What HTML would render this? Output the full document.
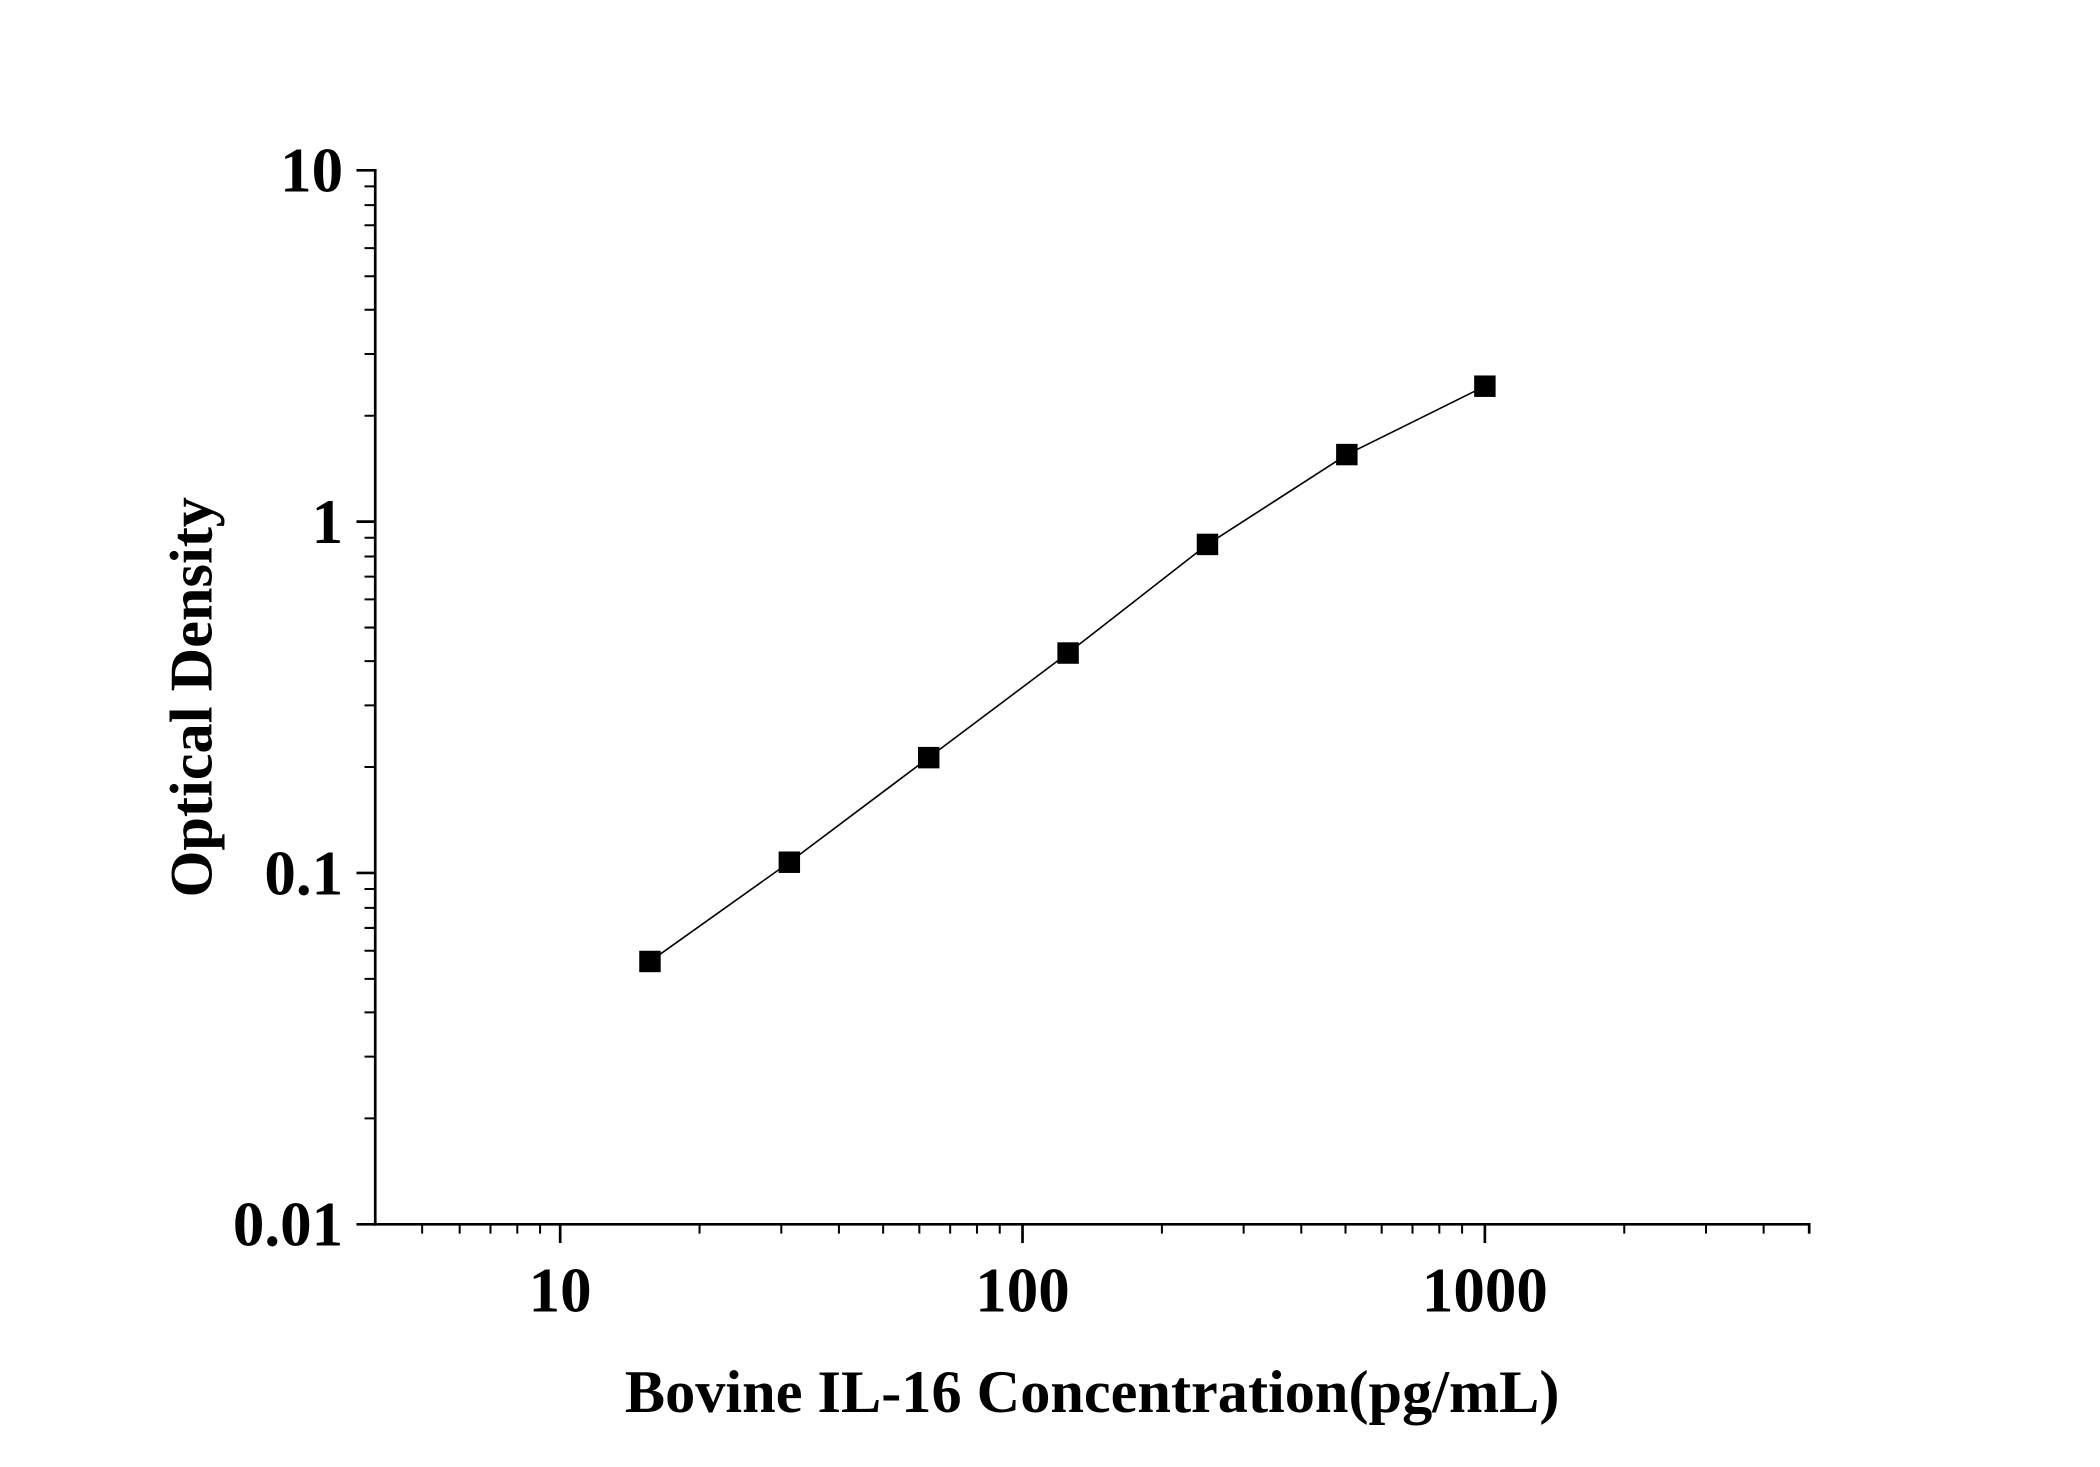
<!DOCTYPE html>
<html><head><style>html,body{margin:0;padding:0;background:#fff;}svg{display:block;}</style></head>
<body>
<svg width="2100" height="1467" viewBox="0 0 1567 1094" preserveAspectRatio="none" xmlns="http://www.w3.org/2000/svg" font-family="Liberation Serif, serif" font-weight="bold">
<g stroke="#000" stroke-width="2" fill="none">
<line x1="280" y1="126" x2="280" y2="914"/>
<line x1="279" y1="913" x2="1351" y2="913"/>
<line x1="266" y1="127" x2="280" y2="127"/>
<line x1="266" y1="389" x2="280" y2="389"/>
<line x1="266" y1="651" x2="280" y2="651"/>
<line x1="266" y1="913" x2="280" y2="913"/>
<line x1="418" y1="913" x2="418" y2="927"/>
<line x1="763" y1="913" x2="763" y2="927"/>
<line x1="1108" y1="913" x2="1108" y2="927"/>
<line x1="1350" y1="913" x2="1350" y2="920"/>
</g>
<g stroke="#000" stroke-width="1.5">
<path d="M272 834H280M272 788H280M272 755H280M272 730H280M272 709H280M272 692H280M272 677H280M272 663H280
M272 572H280M272 526H280M272 493H280M272 468H280M272 447H280M272 430H280M272 415H280M272 401H280
M272 310H280M272 264H280M272 231H280M272 206H280M272 185H280M272 168H280M272 153H280M272 139H280"/>
<path d="M315 913V920M343 913V920M366 913V920M386 913V920M403 913V920
M522 913V920M583 913V920M626 913V920M659 913V920M686 913V920M709 913V920M729 913V920M746 913V920
M867 913V920M928 913V920M971 913V920M1004 913V920M1031 913V920M1054 913V920M1074 913V920M1091 913V920
M1212 913V920M1273 913V920M1316 913V920"/>
</g>
<polyline fill="none" stroke="#000" stroke-width="1.2" points="485,717 589,643 693,565 797,487 901,406 1005,339 1108,288"/>
<g fill="#000">
<rect x="477" y="709" width="16" height="16"/>
<rect x="581" y="635" width="16" height="16"/>
<rect x="685" y="557" width="16" height="16"/>
<rect x="789" y="479" width="16" height="16"/>
<rect x="893" y="398" width="16" height="16"/>
<rect x="997" y="331" width="16" height="16"/>
<rect x="1100" y="280" width="16" height="16"/>
</g>
<g font-size="47" text-anchor="end" fill="#000">
<text x="256" y="143">10</text>
<text x="256" y="405">1</text>
<text x="256" y="667">0.1</text>
<text x="256" y="929">0.01</text>
</g>
<g font-size="47" text-anchor="middle" fill="#000">
<text x="418" y="978">10</text>
<text x="763" y="978">100</text>
<text x="1108" y="978">1000</text>
</g>
<text x="815" y="1053" font-size="45" text-anchor="middle" fill="#000">Bovine IL-16 Concentration(pg/mL)</text>
<text transform="translate(158,520) rotate(-90)" font-size="45" text-anchor="middle" fill="#000">Optical Density</text>
</svg>
</body></html>
